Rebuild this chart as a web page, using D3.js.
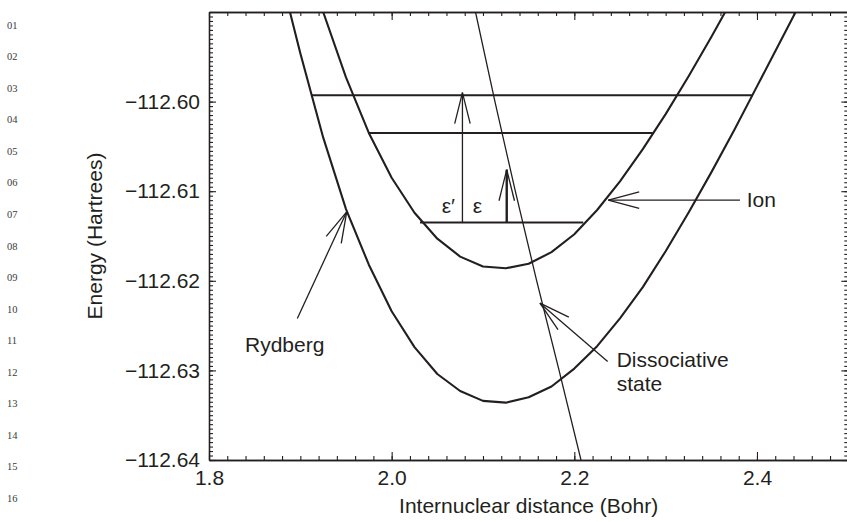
<!DOCTYPE html>
<html>
<head>
<meta charset="utf-8">
<script src="https://cdn.jsdelivr.net/npm/d3@7"></script>
<style>
  html, body { margin: 0; padding: 0; background: #fff; }
  svg { display: block; }
  text { font-family: "Liberation Sans", Arial, Helvetica, sans-serif; fill: #231f20; }
</style>
</head>
<body>
<svg id="chart" width="847" height="523"></svg>
<script>
// ---------------- data ----------------
const xTicks = [1.8, 2.0, 2.2, 2.4];
const xTickLabels = ["1.8", "2.0", "2.2", "2.4"];
const yTicks = [-112.64, -112.63, -112.62, -112.61, -112.60];
const yTickLabels = ["\u2212112.64", "\u2212112.63", "\u2212112.62", "\u2212112.61", "\u2212112.60"];
const xTitle = "Internuclear distance (Bohr)";
const yTitle = "Energy (Hartrees)";
const lineNumbers = ["01","02","03","04","05","06","07","08","09","10","11","12","13","14","15","16"];

// Rydberg potential curve (lower, wider)
const rydbergX = [1.875, 1.9, 1.925, 1.95, 1.975, 2.0, 2.025, 2.05, 2.075, 2.1, 2.125, 2.15, 2.175, 2.2,
                  2.225, 2.25, 2.275, 2.3, 2.325, 2.35, 2.375, 2.4, 2.425, 2.45];
const rydbergE = [-112.5845, -112.5946, -112.6040, -112.6120, -112.6182, -112.6234, -112.6274, -112.6304,
                  -112.6323, -112.6334, -112.6336, -112.6330, -112.6318, -112.6298, -112.6273, -112.6242,
                  -112.6207, -112.6167, -112.6124, -112.6079, -112.6032, -112.5983, -112.5934, -112.5885];

// Ion potential curve (upper, narrower)
const ionX = [1.9, 1.925, 1.95, 1.975, 2.0, 2.025, 2.05, 2.075, 2.1, 2.125, 2.15, 2.175, 2.2,
              2.225, 2.25, 2.275, 2.3, 2.325, 2.35, 2.375];
const ionE = [-112.5813, -112.5900, -112.5973, -112.6035, -112.6085, -112.6124, -112.6153, -112.6173,
              -112.6184, -112.6186, -112.6181, -112.6168, -112.6148, -112.6121, -112.6089, -112.6053,
              -112.6014, -112.5972, -112.5928, -112.5882];

// Dissociative state (nearly straight, steep line)
const dissX = [2.0918, 2.1131, 2.1354, 2.1588, 2.1833, 2.2073];
const dissE = [-112.59, -112.60, -112.61, -112.62, -112.63, -112.64];

// Vibrational levels
const levelE  = [-112.6135, -112.6035, -112.5993];
const levelX0 = [2.031, 1.975, 1.9117];
const levelX1 = [2.2098, 2.2861, 2.3956];

// Transition arrows (epsilon' and epsilon)
const transLabels = ["\u03b5\u2032", "\u03b5"];
const transX      = [2.0775, 2.126];
const transE0     = [-112.6135, -112.6135];
const transE1     = [-112.5990, -112.6076];
const transWidth  = [1.3, 2.4];
const transLabelX = [2.0548, 2.0887];
const transLabelE = [-112.6124, -112.6124];

// Annotations (labels with pointing arrows)
const annLabels = [["Rydberg"], ["Ion"], ["Dissociative", "state"]];
const annTipX   = [1.9508, 2.2372, 2.1624];
const annTipE   = [-112.6123, -112.6110, -112.6225];
const annTailX  = [1.8967, 2.3814, 2.2365];
const annTailE  = [-112.6242, -112.6110, -112.6290];
const annTextX  = [1.8394, 2.3887, 2.2464];
const annTextE  = [-112.6279, -112.6118, -112.62965];

// ---------------- drawing ----------------
const svg = d3.select("#chart");
const INK = "#231f20";
const x = d3.scaleLinear().domain([1.8, 2.5]).range([209, 848.3]);
const y = d3.scaleLinear().domain([-112.64, -112.59]).range([460, 12]);
const [xl, xr] = x.range();
const [yb, yt] = y.range();

// line numbers in the page margin
svg.append("g").selectAll("text").data(lineNumbers).join("text")
  .attr("x", 7).attr("y", (d, i) => 25 + i * 31.55).attr("dy", "0.35em")
  .style("font-family", "'Liberation Serif', 'Times New Roman', serif")
  .style("font-size", "10.5px").style("fill", "#3a3a3a")
  .text(d => d);

// clip
svg.append("defs").append("clipPath").attr("id", "plotclip")
  .append("rect").attr("x", xl).attr("y", yt).attr("width", xr - xl).attr("height", yb - yt);

function styleAxis(g, w) {
  g.selectAll(".domain").attr("stroke", INK).attr("stroke-width", w);
  g.selectAll(".tick line").attr("stroke", INK).attr("stroke-width", 1.1);
  g.selectAll(".tick text").style("font-size", "21px")
    .style("font-family", "'Liberation Sans', Arial, Helvetica, sans-serif").attr("fill", INK);
}

const xMinor = d3.range(0, 36).map(i => 1.8 + i * 0.02);
const yMinor = d3.range(0, 101).map(i => -112.64 + i * 0.0005);

// bottom
svg.append("g").attr("transform", `translate(0,${yb})`)
  .call(d3.axisBottom(x).tickValues(xMinor).tickSize(-4).tickSizeOuter(0).tickFormat(""))
  .call(g => styleAxis(g, 1.3));
svg.append("g").attr("transform", `translate(0,${yb})`)
  .call(d3.axisBottom(x).tickValues(xTicks).tickSize(-8).tickSizeOuter(0).tickPadding(10)
        .tickFormat((d, i) => xTickLabels[i]))
  .call(g => styleAxis(g, 1.3));
// top
svg.append("g").attr("transform", `translate(0,${yt})`)
  .call(d3.axisTop(x).tickValues(xMinor).tickSize(-4).tickSizeOuter(0).tickFormat(""))
  .call(g => styleAxis(g, 1.3));
svg.append("g").attr("transform", `translate(0,${yt})`)
  .call(d3.axisTop(x).tickValues(xTicks).tickSize(-8).tickSizeOuter(0).tickFormat(""))
  .call(g => styleAxis(g, 1.3));
// left
svg.append("g").attr("transform", `translate(${xl},0)`)
  .call(d3.axisLeft(y).tickValues(yMinor).tickSize(-4).tickSizeOuter(0).tickFormat(""))
  .call(g => styleAxis(g, 1.3));
svg.append("g").attr("transform", `translate(${xl},0)`)
  .call(d3.axisLeft(y).tickValues(yTicks).tickSize(-7).tickSizeOuter(0).tickPadding(9)
        .tickFormat((d, i) => yTickLabels[i]))
  .call(g => styleAxis(g, 1.3));
// right
svg.append("g").attr("transform", `translate(${xr},0)`)
  .call(d3.axisRight(y).tickValues(yMinor).tickSize(-4).tickSizeOuter(0).tickFormat(""))
  .call(g => styleAxis(g, 1.3));
svg.append("g").attr("transform", `translate(${xr},0)`)
  .call(d3.axisRight(y).tickValues(yTicks).tickSize(-7).tickSizeOuter(0).tickFormat(""))
  .call(g => styleAxis(g, 1.3));

// axis titles
svg.append("text").attr("x", (xl + xr) / 2).attr("y", 513).attr("text-anchor", "middle")
  .style("font-size", "21px").text(xTitle);
svg.append("text").attr("transform", `translate(102,${(yb + yt) / 2}) rotate(-90)`)
  .attr("text-anchor", "middle").style("font-size", "21px").text(yTitle);

// plot content
const plot = svg.append("g").attr("clip-path", "url(#plotclip)");
const line = d3.line().x(d => x(d[0])).y(d => y(d[1]));

plot.append("path").datum(rydbergX.map((v, i) => [v, rydbergE[i]]))
  .attr("d", line).attr("fill", "none").attr("stroke", INK).attr("stroke-width", 2.1)
  .attr("stroke-linejoin", "round");
plot.append("path").datum(ionX.map((v, i) => [v, ionE[i]]))
  .attr("d", line).attr("fill", "none").attr("stroke", INK).attr("stroke-width", 2.1)
  .attr("stroke-linejoin", "round");
plot.append("path").datum(dissX.map((v, i) => [v, dissE[i]]))
  .attr("d", line).attr("fill", "none").attr("stroke", INK).attr("stroke-width", 1.3);

// vibrational levels
plot.selectAll(".lvl").data(levelE).join("line").attr("class", "lvl")
  .attr("x1", (d, i) => x(levelX0[i])).attr("x2", (d, i) => x(levelX1[i]))
  .attr("y1", d => y(d)).attr("y2", d => y(d))
  .attr("stroke", INK).attr("stroke-width", 2);

// arrow helper: open V head
function arrow(g, x1, y1, x2, y2, w, len = 32, ang = 15) {
  g.append("line").attr("x1", x1).attr("y1", y1).attr("x2", x2).attr("y2", y2)
    .attr("stroke", INK).attr("stroke-width", w);
  const a = Math.atan2(y1 - y2, x1 - x2);
  const r = ang * Math.PI / 180;
  [a - r, a + r].forEach(t => {
    g.append("line").attr("x1", x2).attr("y1", y2)
      .attr("x2", x2 + len * Math.cos(t)).attr("y2", y2 + len * Math.sin(t))
      .attr("stroke", INK).attr("stroke-width", 1.3).attr("stroke-linecap", "butt");
  });
}

const ann = svg.append("g");
transX.forEach((tx, i) => {
  arrow(ann, x(tx), y(transE0[i]), x(tx), y(transE1[i]), transWidth[i], 32, 14);
  ann.append("text").attr("x", x(transLabelX[i])).attr("y", y(transLabelE[i]))
    .style("font-size", "21px").text(transLabels[i]);
});

annLabels.forEach((lbl, i) => {
  arrow(ann, x(annTailX[i]), y(annTailE[i]), x(annTipX[i]), y(annTipE[i]), 1.3, 32, 15);
  const t = ann.append("text").attr("x", x(annTextX[i])).attr("y", y(annTextE[i]))
    .style("font-size", "21px");
  lbl.forEach((s, j) => {
    t.append("tspan").attr("x", x(annTextX[i])).attr("dy", j === 0 ? 0 : "1.13em").text(s);
  });
});
</script>
</body>
</html>
